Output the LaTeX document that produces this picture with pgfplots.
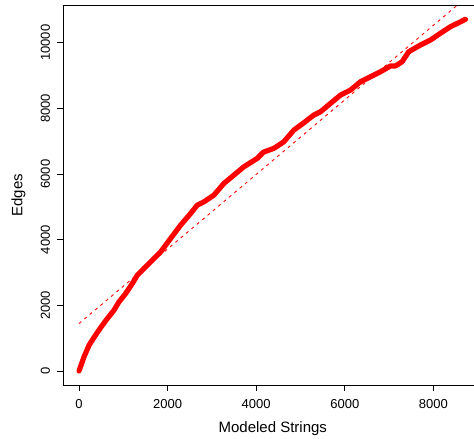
\documentclass[border=0pt]{standalone}
\usepackage{fontspec}
\setmainfont{Liberation Sans}
\usepackage{pgfplots}
\pgfplotsset{compat=1.18}
\begin{document}
\begin{tikzpicture}[x=1bp,y=1bp]
\begin{axis}[
  at={(0,0)}, anchor=south west,
  scale only axis,
  width=418.6bp, height=379.3bp,
  xmin=-350, xmax=9100,
  ymin=-428, ymax=11128,
  axis line style={line width=0.8bp, black},
  tick style={line width=0.8bp, black},
  tick align=outside,
  major tick length=6bp,
  xtick pos=bottom, ytick pos=left,
  xtick={0,2000,4000,6000,8000},
  ytick={0,2000,4000,6000,8000,10000},
  scaled x ticks=false, scaled y ticks=false,
  /pgf/number format/assume math mode=true,
  /pgf/number format/.cd, 1000 sep={}, /pgfplots/.cd,
  ticklabel style={font=\fontsize{13bp}{15bp}\selectfont, inner sep=0pt},
  xticklabel style={anchor=base, yshift=-17.5bp},
  yticklabel style={xshift=-7.5bp, rotate=90, anchor=base},
  xlabel={Modeled Strings},
  ylabel={Edges},
  every axis x label/.style={at={(rel axis cs:0.5,0)}, anchor=base, yshift=-47.3bp, inner sep=0pt, font=\fontsize{15bp}{18bp}\selectfont},
  every axis y label/.style={at={(rel axis cs:0,0.5)}, xshift=-45bp, rotate=90, anchor=center, inner sep=0pt, font=\fontsize{15bp}{18bp}\selectfont},
  clip=true,
]
\addplot[red, line width=0.9bp, dash pattern=on 3bp off 4bp] coordinates {(0,1445) (8750,11382)};
\addplot[red, line width=5.2bp, line join=round, line cap=round] coordinates {
(0,0) (113,427) (226,784) (338,1018) (490,1323) (641,1598) (790,1851) (902,2104)
(1054,2360) (1205,2665) (1317,2918) (1466,3122) (1617,3323) (1843,3628) (2069,4037)
(2294,4442) (2520,4799) (2671,5052) (2820,5152) (3045,5357) (3271,5713) (3497,5967)
(3722,6220) (4024,6476) (4167,6668) (4399,6781) (4624,6982) (4850,7338) (5076,7561)
(5301,7796) (5452,7896) (5678,8152) (5904,8406) (6129,8558) (6355,8811) (6580,8963)
(6806,9116) (7031,9290) (7144,9290) (7295,9421) (7444,9726) (7708,9930) (7934,10082)
(8159,10287) (8385,10488) (8572,10610) (8723,10713)
};
\end{axis}
\pgfresetboundingbox
\path[use as bounding box] (-63.5,-54) rectangle (410.5,385);
\end{tikzpicture}
\end{document}
